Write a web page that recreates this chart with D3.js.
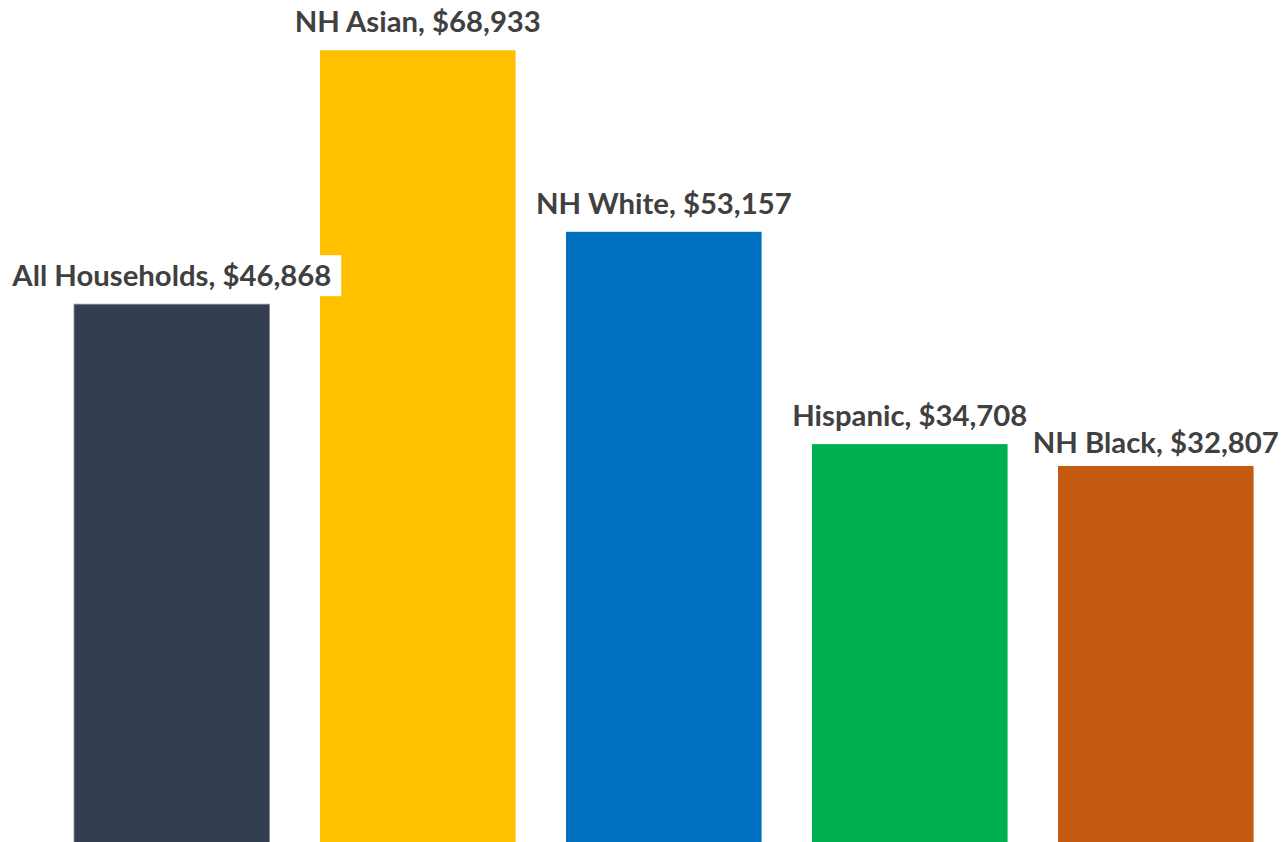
<!DOCTYPE html>
<html><head><meta charset="utf-8">
<script src="https://cdn.jsdelivr.net/npm/d3@7"></script>
<style>html,body{margin:0;padding:0;background:#fff;overflow:hidden}</style>
</head><body>
<svg id="chart" width="1281" height="842"></svg>
<script>
const categories = ["All Households", "NH Asian", "NH White", "Hispanic", "NH Black"];
const values = [46868, 68933, 53157, 34708, 32807];
const colors = ["#333F50", "#FFC000", "#0070C0", "#00B050", "#C55A11"];

const svg = d3.select("#chart");
const x = d3.scaleBand().domain(categories).range([48.8, 1278.8]).paddingInner(0.205).paddingOuter(0.1025);
const y = d3.scaleLinear().domain([0, 73300]).range([843.5, 0]);
const fmt = d3.format("$,");

const data = categories.map((c, i) => ({c, v: values[i], col: colors[i]}));

svg.selectAll("rect.bar").data(data).enter().append("rect")
  .attr("class", "bar")
  .attr("x", d => x(d.c)).attr("width", x.bandwidth())
  .attr("y", d => y(d.v)).attr("height", d => y(0) - y(d.v))
  .attr("fill", d => d.col)
  .attr("stroke", (d, i) => i === 0 ? "#8a8a8a" : "none")
  .attr("stroke-width", 0.8);

const labels = svg.selectAll("g.lab").data(data).enter().append("g").attr("class", "lab");
const bg = labels.append("rect").attr("fill", "#fff");
const txt = labels.append("text")
  .attr("x", d => x(d.c) + x.bandwidth() / 2)
  .attr("y", d => y(d.v) - (d.c === "NH Black" ? 13 : 18))
  .attr("text-anchor", "middle")
  .attr("font-family", "Lato, 'Open Sans', sans-serif")
  .attr("font-weight", "bold")
  .attr("font-size", 29.3)
  .attr("fill", "#404040")
  .text(d => d.c + ", " + fmt(d.v));
txt.each(function(d, i) {
  const b = this.getBBox();
  d3.select(this.parentNode).select("rect")
    .attr("x", b.x - 8).attr("y", b.y - 2)
    .attr("width", b.width + 18).attr("height", b.height + 6);
});
</script>
</body></html>
